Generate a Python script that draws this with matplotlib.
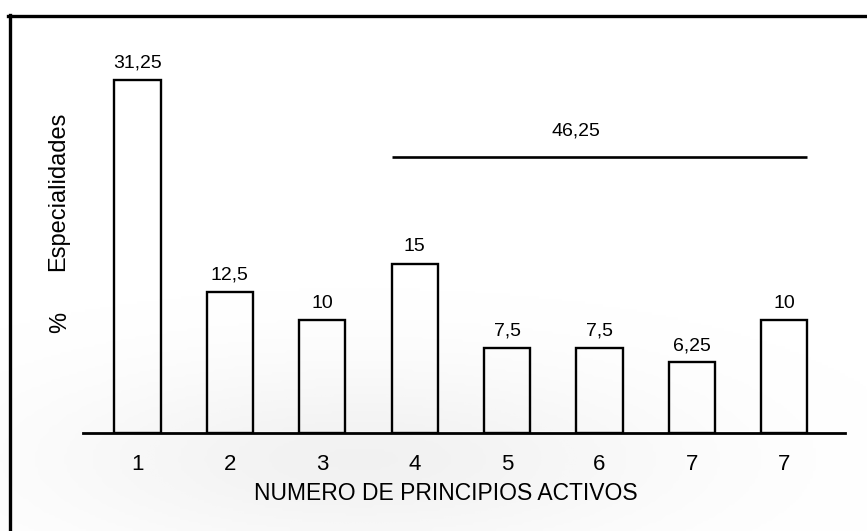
import numpy as np
import matplotlib
matplotlib.use("Agg")
import matplotlib.pyplot as plt
from matplotlib.lines import Line2D

# data
categories = ["1", "2", "3", "4", "5", "6", "7", "7"]
percent = [31.25, 12.5, 10, 15, 7.5, 7.5, 6.25, 10]
value_labels = ["31,25", "12,5", "10", "15", "7,5", "7,5", "6,25", "10"]
group_total = 46.25
group_label = "46,25"
group_first, group_last = 3, 7

plt.rcParams['font.family'] = ['Liberation Sans', 'DejaVu Sans']

W, H = 867, 531
fig = plt.figure(figsize=(W/100, H/100), dpi=100)
fig.patch.set_facecolor('white')

# light halftone-like shading of the scan (background only)
bg = fig.add_axes([0, 0, 1, 1], zorder=0)
bg.set_axis_off()
gx, gy = np.meshgrid(np.linspace(0, W, 300), np.linspace(0, H, 200))
blob = np.exp(-(((gx-360)/360)**2 + ((gy-460)/110)**2)*1.4)
bg.imshow(blob, extent=[0, W, H, 0], cmap='Greys', vmin=0, vmax=9,
          aspect='auto', interpolation='bilinear')
bg.set_xlim(0, W)
bg.set_ylim(H, 0)

# main axes: baseline at y=433px, 11.3 px per percent
x0, x1, yb, yt = 83, 845, 433, 16
ax = fig.add_axes([x0/W, 1-yb/H, (x1-x0)/W, (yb-yt)/H], zorder=1)
ax.patch.set_alpha(0)
ppu = 11.3
step = 92.4
ax.set_xlim((x0-137.5)/step, (x1-137.5)/step)
ax.set_ylim(0, (yb-yt)/ppu)

x = np.arange(len(percent))
ax.bar(x, percent, width=0.5, facecolor='none', edgecolor='black', linewidth=1.7)
for xi, v, lab in zip(x, percent, value_labels):
    ax.annotate(lab, (xi, v), xytext=(0, 6), textcoords='offset points',
                ha='center', va='bottom', fontsize=14)

# bracket line for the grouped total
ly = 24.4
ax.plot([group_first-0.25, group_last+0.25], [ly, ly], color='black', lw=1.9,
        solid_capstyle='butt')
ax.text((group_first+group_last)/2 - 0.25, ly+1.6, group_label, ha='center', va='bottom',
        fontsize=14)

for s in ['top', 'right', 'left']:
    ax.spines[s].set_visible(False)
ax.spines['bottom'].set_linewidth(2.0)
ax.set_yticks([])
ax.set_xticks(x)
ax.set_xticklabels(categories, fontsize=16)
ax.tick_params(axis='x', length=0, pad=15)

fig.text(446/W, 1-493/H, "NUMERO DE PRINCIPIOS ACTIVOS", ha='center', va='center',
         fontsize=16.5)
fig.text(58/W, 1-191/H, "Especialidades", rotation=90, ha='center', va='center',
         fontsize=17)
fig.text(60/W, 1-322/H, "%", rotation=90, ha='center', va='center', fontsize=17)

# page frame of the scan
fig.add_artist(Line2D([10/W, 10/W], [0, 1-15/H], color='black', lw=2.4))
fig.add_artist(Line2D([8/W, 1], [1-16/H, 1-16/H], color='black', lw=2.4))

fig.savefig("out.png", dpi=100)
